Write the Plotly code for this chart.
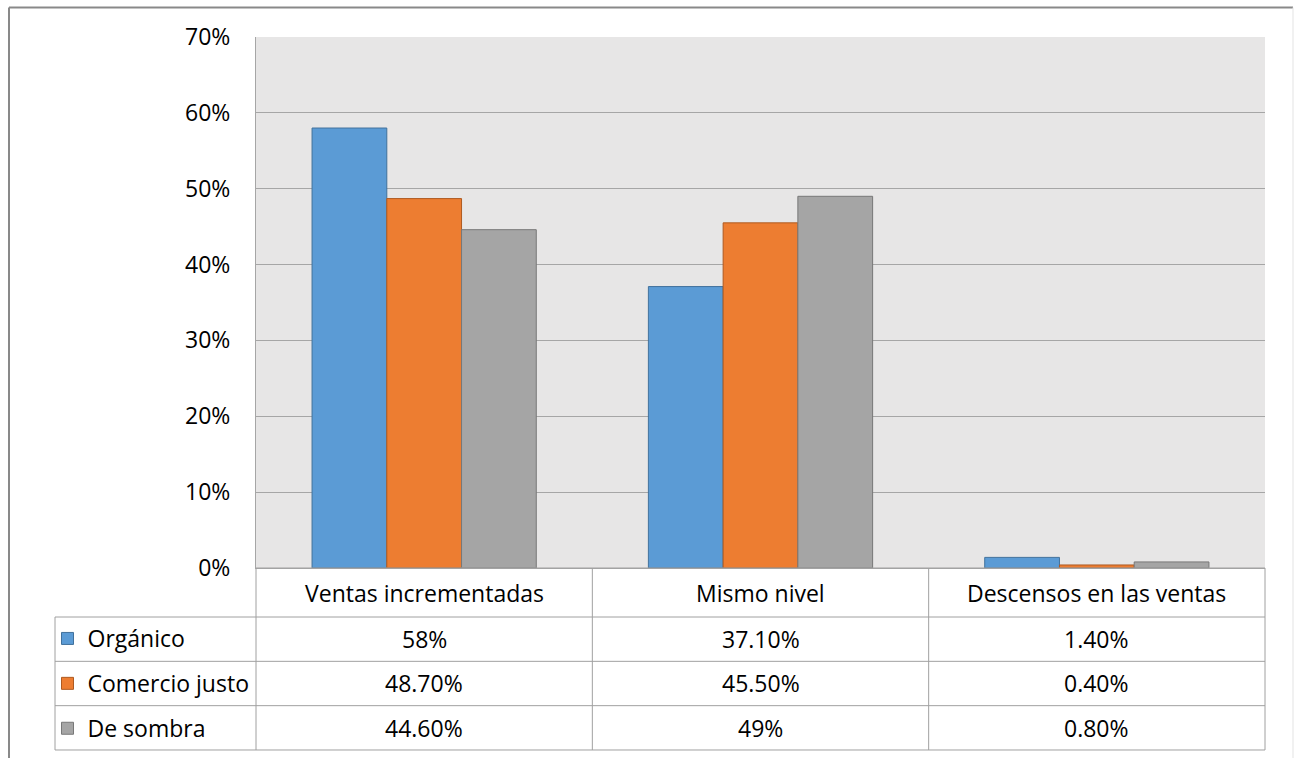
import plotly.graph_objects as go

categories = ["Ventas incrementadas", "Mismo nivel", "Descensos en las ventas"]
series_names = ["Orgánico", "Comercio justo", "De sombra"]
organico = [0.58, 0.371, 0.014]
comercio_justo = [0.487, 0.455, 0.004]
de_sombra = [0.446, 0.49, 0.008]
table_labels = [
    ["58%", "37.10%", "1.40%"],
    ["48.70%", "45.50%", "0.40%"],
    ["44.60%", "49%", "0.80%"],
]
y_ticks = [0, 0.1, 0.2, 0.3, 0.4, 0.5, 0.6, 0.7]

fills = ["#5B9BD5", "#ED7D31", "#A5A5A5"]
edges = ["#41719C", "#AE5A21", "#787878"]
FONT = "Open Sans"
FS = 23
W, H = 1294, 758
L, R, T, B = 256, 1265, 37, 568          # plot area (pixels)
TABLE_LEFT = 55
HEADER_BOTTOM = 617
ROW_H = 44.33
GRID = "#A6A6A6"
TBL = "#A0A0A0"


def px(x):
    return x / W


def py(y):
    return (H - y) / H


fig = go.Figure()
for i, (name, vals) in enumerate(zip(series_names, [organico, comercio_justo, de_sombra])):
    fig.add_trace(go.Bar(
        x=list(range(len(categories))), y=vals, name=name,
        marker=dict(color=fills[i], line=dict(color=edges[i], width=1)),
        legendgroup=name, hoverinfo="skip",
    ))

n = len(categories)
col_edges = [L + k * (R - L) / n for k in range(n + 1)]
row_edges = [HEADER_BOTTOM + k * ROW_H for k in range(len(series_names) + 1)]

shapes = []
# horizontal table lines
shapes.append(dict(type="line", xref="paper", yref="paper", x0=px(L), x1=px(R), y0=py(B), y1=py(B),
                   line=dict(color=TBL, width=1)))
for yv in row_edges:
    shapes.append(dict(type="line", xref="paper", yref="paper", x0=px(TABLE_LEFT), x1=px(R),
                       y0=py(yv), y1=py(yv), line=dict(color=TBL, width=1)))
# vertical table lines
shapes.append(dict(type="line", xref="paper", yref="paper", x0=px(TABLE_LEFT), x1=px(TABLE_LEFT),
                   y0=py(HEADER_BOTTOM), y1=py(row_edges[-1]), line=dict(color=TBL, width=1)))
for xv in col_edges:
    shapes.append(dict(type="line", xref="paper", yref="paper", x0=px(xv), x1=px(xv),
                       y0=py(B), y1=py(row_edges[-1]), line=dict(color=TBL, width=1)))
# outer chart frame
shapes += [
    dict(type="line", xref="paper", yref="paper", x0=px(9), x1=px(9), y0=0, y1=py(7.5),
         line=dict(color="#898989", width=2)),
    dict(type="line", xref="paper", yref="paper", x0=px(9), x1=px(1293), y0=py(7.5), y1=py(7.5),
         line=dict(color="#898989", width=2)),
    dict(type="line", xref="paper", yref="paper", x0=px(1293), x1=px(1293), y0=0, y1=py(7.5),
         line=dict(color="#E3E3E3", width=1)),
]

annotations = []
for c, cat in enumerate(categories):
    annotations.append(dict(x=c, xref="x", y=py((B + HEADER_BOTTOM) / 2), yref="paper",
                            text=cat, showarrow=False, xanchor="center", yanchor="middle",
                            font=dict(family=FONT, size=FS, color="black")))
    for s in range(len(series_names)):
        annotations.append(dict(x=c, xref="x", y=py((row_edges[s] + row_edges[s + 1]) / 2), yref="paper",
                                text=table_labels[s][c], showarrow=False, xanchor="center", yanchor="middle",
                                font=dict(family=FONT, size=FS, color="black")))

fig.update_layout(
    width=W, height=H,
    margin=dict(l=0, r=0, t=0, b=0, pad=0, autoexpand=False),
    paper_bgcolor="white",
    plot_bgcolor="#E7E6E6",
    barmode="group", bargap=1 / 3, bargroupgap=0,
    font=dict(family=FONT, size=FS, color="black"),
    showlegend=True,
    legend=dict(
        x=px(47.5), xanchor="left", y=py(HEADER_BOTTOM), yanchor="top",
        bgcolor="rgba(0,0,0,0)", borderwidth=0,
        tracegroupgap=12, traceorder="grouped",
        font=dict(family=FONT, size=FS, color="black"),
        itemclick=False, itemdoubleclick=False,
    ),
    xaxis=dict(domain=[px(L), px(R)], range=[-0.5, n - 0.5], showticklabels=False, showgrid=False,
               showline=True, linecolor=GRID, linewidth=1, ticks="", zeroline=False, fixedrange=True),
    yaxis=dict(domain=[py(B), py(T)], range=[0, 0.7], tickvals=y_ticks, tickformat=".0%",
               showgrid=True, gridcolor=GRID, gridwidth=1,
               showline=True, linecolor=GRID, linewidth=1, zeroline=False,
               ticks="", ticklabelstandoff=20, fixedrange=True,
               tickfont=dict(family=FONT, size=FS, color="black")),
    shapes=shapes,
    annotations=annotations,
)

fig.write_html("out.html", config={"displayModeBar": False})
